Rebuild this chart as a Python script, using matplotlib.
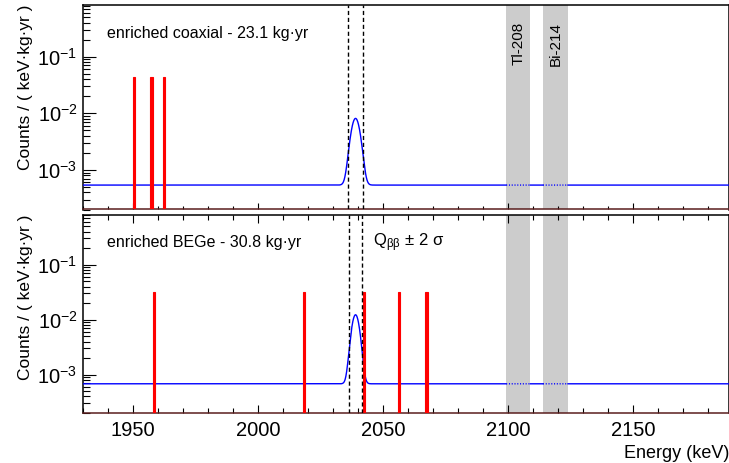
import matplotlib
matplotlib.use('Agg')
import matplotlib.pyplot as plt
import matplotlib.ticker as mticker
import numpy as np

plt.rcParams['font.family'] = ['Liberation Sans', 'DejaVu Sans']
plt.rcParams['mathtext.fontset'] = 'custom'
plt.rcParams['mathtext.rm'] = 'Liberation Sans'
plt.rcParams['mathtext.it'] = 'Liberation Sans:italic'
plt.rcParams['mathtext.sf'] = 'Liberation Sans'

# DADOS
paineis = ['enriched coaxial - 23.1 kg·yr', 'enriched BEGe - 30.8 kg·yr']
eventos_coax = [1950, 1957, 1962]
eventos_bege = [1958, 2018, 2042, 2056, 2067]
altura_evento = [0.043, 0.032]        # 1 evento / exposicao
fundo = [5.4e-4, 6.8e-4]              # nivel de fundo do ajuste
amp_pico = [7.6e-3, 1.16e-2]          # amplitude do pico em Qbb
sigma_pico = [1.6, 1.4]
qbb = 2039.06
janela_2sigma = [(2036.0, 2042.0), (2036.5, 2041.5)]
bandas = [(2099.3, 2109.0, 'Tl-208'), (2114.0, 2124.0, 'Bi-214')]
xlim = (1930, 2188.5)
ylim = (2.0e-4, 0.82)
xticks = [1950, 2000, 2050, 2100, 2150]

fig = plt.figure(figsize=(7.29, 4.63), dpi=100)
axTopo = fig.add_axes([83/729, 1-209.5/463, 646/729, 204.5/463])
axBaixo = fig.add_axes([83/729, 1-413/463, 646/729, 198.5/463])

energia = np.linspace(xlim[0], xlim[1], 2601)
dentro = np.zeros_like(energia, dtype=bool)
for a, b, _ in bandas:
    dentro |= (energia >= a) & (energia <= b)

for i, (ax, eventos) in enumerate([(axTopo, eventos_coax), (axBaixo, eventos_bege)]):
    ax.set_yscale('log')
    ax.set_xlim(*xlim)
    ax.set_ylim(*ylim)

    for a, b, nome in bandas:
        ax.axvspan(a, b, color='#cccccc', lw=0, zorder=1)

    curva = fundo[i] + amp_pico[i]*np.exp(-(energia-qbb)**2/(2*sigma_pico[i]**2))
    ax.plot(energia, np.where(dentro, np.nan, curva), color='blue', lw=1, zorder=3)
    ax.plot(energia, np.where(dentro, curva, np.nan), color='blue', lw=1, ls=(0, (0.8, 1.2)), zorder=3)

    ax.bar(eventos, [altura_evento[i]]*len(eventos), width=1, align='edge', bottom=1e-6,
           color='red', edgecolor='red', lw=0.8, zorder=4)

    for xv in janela_2sigma[i]:
        ax.axvline(xv, color='black', lw=1, ls=(0, (3, 2)), zorder=5)

    ax.text(0.037, 0.86, paineis[i], transform=ax.transAxes,
            fontsize=11.5, va='center', ha='left')

    ax.set_ylabel('Counts / ( keV·kg·yr )', fontsize=12.5, loc='top')
    ax.yaxis.set_label_coords(-0.077, 1.0)

    ax.yaxis.set_major_locator(mticker.LogLocator(base=10, numticks=10))
    ax.yaxis.set_minor_locator(mticker.LogLocator(base=10, subs=np.arange(2, 10), numticks=20))
    ax.yaxis.set_minor_formatter(mticker.NullFormatter())
    ax.tick_params(axis='y', which='major', direction='in', length=9.5, width=0.8, labelsize=14.5, pad=4)
    ax.tick_params(axis='y', which='minor', direction='in', length=5, width=0.8)

    ax.set_xticks(xticks)
    ax.xaxis.set_minor_locator(mticker.MultipleLocator(10))

    ax.spines['bottom'].set_color('#5a1e1e')
    for s in ax.spines.values():
        s.set_linewidth(1.1)

# painel de cima: ticks so em baixo, sem rotulos
axTopo.tick_params(axis='x', which='major', direction='in', length=4.5, width=0.8, labelbottom=False)
axTopo.tick_params(axis='x', which='minor', direction='in', length=2.5, width=0.8)
for a, b, nome in bandas:
    axTopo.text((a+b)/2, 0.917, nome, transform=axTopo.get_xaxis_transform(),
                rotation=90, ha='center', va='top', fontsize=11, zorder=6)

# painel de baixo
axBaixo.tick_params(axis='x', which='major', direction='in', length=6, width=0.8, top=True,
                    labelsize=14.5, pad=6)
axBaixo.tick_params(axis='x', which='minor', direction='in', length=3.5, width=0.8, top=True)
axBaixo.text(2046.0, 0.86, r'Q$_{\mathrm{ββ}}$ ± 2 σ', transform=axBaixo.get_xaxis_transform(),
             fontsize=12, va='center', ha='left')
axBaixo.set_xlabel('Energy (keV)', fontsize=13, loc='right', labelpad=3)

fig.savefig('out.png', dpi=100)
